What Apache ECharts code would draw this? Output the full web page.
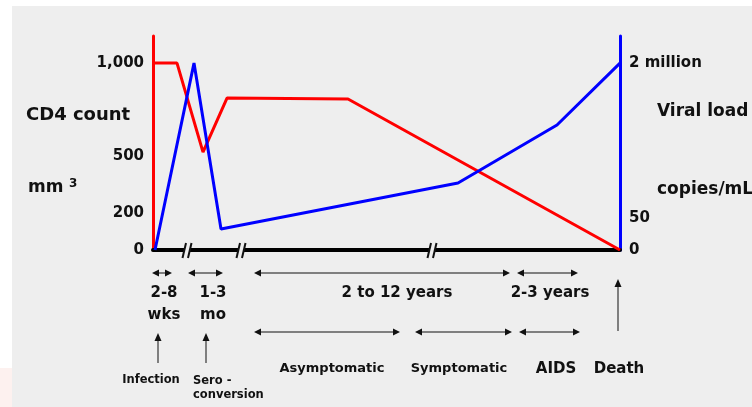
<!DOCTYPE html>
<html>
<head>
<meta charset="utf-8">
<script src="https://cdn.jsdelivr.net/npm/echarts@6/dist/echarts.min.js"></script>
<style>
html,body{margin:0;padding:0;background:#ffffff;}
#c{width:752px;height:407px;}
</style>
</head>
<body>
<div id="c"></div>
<script>
// ---- data (x in schematic timeline units) ----
const cd4X = [0, 24, 50, 74, 195, 467];
const cd4Y = [1000, 1000, 524, 813, 808, 0];
const viralX = [2, 41, 68, 305, 404, 467];
const viralY = [0, 2000, 225, 717, 1338, 2000];

const leftTickValues = [0, 200, 500, 1000];
const leftTickLabels = ['0', '200', '500', '1,000'];
const rightTickValues = [0, 342, 2000];
const rightTickLabels = ['0', '50', '2 million'];

// timeline annotations (x in timeline units)
const breakMarks = [34, 88, 279];
const durationSpans = [[-1, 19], [35, 70], [101, 357], [364, 425]];
const durationLabels = [['2-8', 11], ['1-3', 60], ['2 to 12 years', 244], ['2-3 years', 397]];
const durationLabels2 = [['wks', 11], ['mo', 60]];
const stageSpans = [[101, 247], [262, 359], [366, 427]];
const stageLabels = [['Asymptomatic', 179, 13], ['Symptomatic', 306, 13], ['AIDS', 403, 15], ['Death', 466, 15]];
const eventArrows = [5, 53];
const deathArrow = 465;

const FONT = '"DejaVu Sans", sans-serif';
const chart = echarts.init(document.getElementById('c'), null, {renderer: 'canvas'});

function zip(xs, ys) { return xs.map((x, i) => [x, ys[i]]); }

chart.setOption({
  animation: false,
  backgroundColor: '#ffffff',
  grid: {left: 153, right: 132, top: 36, bottom: 157},
  xAxis: {
    type: 'value', min: 0, max: 467,
    axisLine: {lineStyle: {color: '#000', width: 4}},
    axisTick: {show: false}, axisLabel: {show: false}, splitLine: {show: false}
  },
  yAxis: [{
    type: 'value', min: 0, max: 1145,
    axisLine: {show: true, lineStyle: {color: '#ff0000', width: 3}},
    axisTick: {show: false},
    splitLine: {show: false},
    axisLabel: {
      customValues: leftTickValues,
      margin: 9,
      fontFamily: FONT, fontWeight: 'bold', fontSize: 15, color: '#111',
      formatter: v => leftTickLabels[leftTickValues.indexOf(v)]
    }
  }, {
    type: 'value', min: 0, max: 2290, position: 'right',
    axisLine: {show: true, lineStyle: {color: '#0000ff', width: 3}},
    axisTick: {show: false},
    splitLine: {show: false},
    axisLabel: {
      customValues: rightTickValues,
      margin: 9,
      fontFamily: FONT, fontWeight: 'bold', fontSize: 15, color: '#111',
      formatter: v => rightTickLabels[rightTickValues.indexOf(v)]
    }
  }],
  series: [{
    name: 'CD4 count', type: 'line', yAxisIndex: 0,
    data: zip(cd4X, cd4Y), symbol: 'none',
    lineStyle: {color: '#ff0000', width: 3}, z: 3
  }, {
    name: 'Viral load', type: 'line', yAxisIndex: 1,
    data: zip(viralX, viralY), symbol: 'none',
    lineStyle: {color: '#0000ff', width: 3}, z: 4
  }]
});

function px(v) { return chart.convertToPixel({xAxisIndex: 0}, v); }
const BG = '#eeeeee';
const g = [];
// background panels
g.push({type: 'rect', shape: {x: 12, y: 6, width: 740, height: 401}, style: {fill: BG}, z: -10, silent: true});
g.push({type: 'rect', shape: {x: 0, y: 368, width: 12, height: 39}, style: {fill: '#fdf1ef'}, z: -10, silent: true});

function txt(text, x, y, size, align, extra) {
  return Object.assign({type: 'text', z: 10, style: {
    text: text, x: x, y: y, align: align || 'center', verticalAlign: 'middle',
    fontFamily: FONT, fontWeight: 'bold', fontSize: size, fill: '#111'
  }}, extra || {});
}
function line(x1, y1, x2, y2, w) {
  return {type: 'line', z: 10, shape: {x1: x1, y1: y1, x2: x2, y2: y2}, style: {stroke: '#111', lineWidth: w || 1}};
}
function head(x, y, dir) { // dir: 'l','r','u'
  let pts;
  if (dir === 'l') pts = [[x, y], [x + 7, y - 3.5], [x + 7, y + 3.5]];
  else if (dir === 'r') pts = [[x, y], [x - 7, y - 3.5], [x - 7, y + 3.5]];
  else pts = [[x, y], [x - 3.5, y + 8], [x + 3.5, y + 8]];
  return {type: 'polygon', z: 10, shape: {points: pts}, style: {fill: '#111'}};
}
function dbl(a, b, y) {
  const x1 = px(a), x2 = px(b);
  g.push(line(x1 + 3, y, x2 - 3, y, 1));
  g.push(head(x1, y, 'l'));
  g.push(head(x2, y, 'r'));
}

// axis titles
g.push(txt('CD4 count', 26, 115, 18, 'left'));
g.push(txt('mm', 28, 188, 17, 'left'));
g.push(txt('3', 69, 184, 12, 'left'));
g.push(txt('Viral load', 657, 112, 17, 'left'));
g.push(txt('copies/mL', 657, 190, 17, 'left'));

// axis breaks
breakMarks.forEach(b => {
  const x = px(b);
  g.push({type: 'rect', z: 9, shape: {x: x - 3, y: 247, width: 6, height: 6}, style: {fill: BG}});
  g.push(line(x - 4.5, 258, x - 1, 243, 2));
  g.push(line(x + 1, 258, x + 4.5, 243, 2));
});

durationSpans.forEach(s => dbl(s[0], s[1], 273));
durationLabels.forEach(l => g.push(txt(l[0], px(l[1]), 293, 15)));
durationLabels2.forEach(l => g.push(txt(l[0], px(l[1]), 315, 15)));
stageSpans.forEach(s => dbl(s[0], s[1], 332));
stageLabels.forEach(l => g.push(txt(l[0], px(l[1]), 369, l[2])));

eventArrows.forEach(a => {
  const x = px(a);
  g.push(line(x, 338, x, 363, 1));
  g.push(head(x, 333, 'u'));
});
{
  const x = px(deathArrow);
  g.push(line(x, 285, x, 331, 1));
  g.push(head(x, 279, 'u'));
}
g.push(txt('Infection', 151, 380, 11.5));
g.push(txt('Sero -', 193, 381, 11.5, 'left'));
g.push(txt('conversion', 193, 395, 11.5, 'left'));

chart.setOption({graphic: {elements: g}});
</script>
</body>
</html>
